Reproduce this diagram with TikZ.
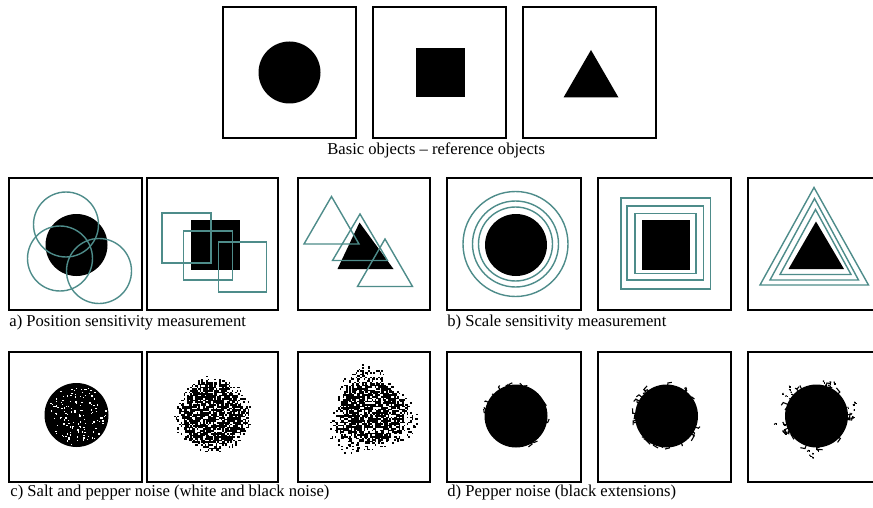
\documentclass[tikz,border=0pt]{standalone}
\usepackage{fontspec}
\setmainfont{Liberation Serif}
\usetikzlibrary{calc}
\definecolor{probeteal}{RGB}{78,140,138}

\begin{document}
\begin{tikzpicture}[
    x=0.5pt, y=-0.5pt,
    font=\fontsize{8.3}{10}\selectfont,
    frame/.style={draw=black, line width=0.75pt, fill=white},
    obj/.style={fill=black},
    probe/.style={draw=probeteal, line width=0.7pt},
    speck/.style={draw=black, line width=0.55pt},
    caption/.style={inner sep=0pt, anchor=base west}
  ]
  \useasboundingbox (0,0) rectangle (873,508);
  \clip (0,0) rectangle (873,508);

  % frames
  \foreach \x in {223,373,523} \draw[frame] (\x,7) rectangle ++(133,131);
  \foreach \x/\w in {9/133,147/131,298/132,447/134,598/133,748/133} {
    \draw[frame] (\x,178) rectangle ++(\w,132);
    \draw[frame] (\x,352) rectangle ++(\w,130);
  }

  % reference objects
  \fill[obj] (289.5,72.5) circle (31);
  \fill[obj] (416,48.5) rectangle (465,97.5);
  \fill[obj] (591,50) -- (618.5,97.5) -- (563.5,97.5) -- cycle;
  \node[caption] (capbasic) at (327,155) {Basic objects -- reference objects};

  % a) position
  \fill[obj] (76.5,245) circle (31);
  \draw[probe] (66,224.5) circle (32.5);
  \draw[probe] (60,258.5) circle (32.5);
  \draw[probe] (99,271) circle (32.5);
  \fill[obj] (191,220) rectangle (239.5,269.5);
  \draw[probe] (162,213) rectangle ++(49,50);
  \draw[probe] (183.5,231) rectangle ++(49,49);
  \draw[probe] (218.5,242) rectangle ++(48,50);
  \fill[obj] (359.5,222.5) -- (393.5,269) -- (337.5,269) -- cycle;
  \draw[probe] (331.5,196.5) -- (359,244) -- (304,244) -- cycle;
  \draw[probe] (360,214) -- (387.5,260.5) -- (332.5,260.5) -- cycle;
  \draw[probe] (385,239) -- (412.5,286.5) -- (357.5,286.5) -- cycle;
  \node[caption] (cappos) at (9,326) {a) Position sensitivity measurement};

  % b) scale
  \fill[obj] (516,245) circle (31);
  \foreach \r in {37,43,52.5} \draw[probe] (515.5,244) circle (\r);
  \fill[obj] (642,220) rectangle (690,269.5);
  \draw[probe] (635,213.5) rectangle (696,273.5);
  \draw[probe] (627,206) rectangle (703.5,280);
  \draw[probe] (621,198) rectangle (710.5,289);
  \fill[obj] (816,221.5) -- (844,269) -- (788.5,269) -- cycle;
  \draw[probe] (815.5,209.5) -- (851,274.5) -- (780,274.5) -- cycle;
  \draw[probe] (814.5,198.5) -- (858.5,280) -- (770,280) -- cycle;
  \draw[probe] (814,187.5) -- (868.5,285) -- (760,285) -- cycle;
  \node[caption] (capscale) at (447,326) {b) Scale sensitivity measurement};

  % c) salt and pepper
  \pgfmathsetseed{11}
  \fill[obj] (76.5,415) circle (32);
  \foreach \k in {1,...,140} {
    \pgfmathsetmacro\ang{360*rnd}
    \pgfmathsetmacro\rr{30*sqrt(rnd)}
    \fill[white, shift={(76.5,415)}] (\ang:\rr) rectangle ++(1.3,1.3);
  }
  \foreach \i in {-25,...,25} {
    \foreach \j in {-25,...,25} {
      \pgfmathsetmacro\dd{1.6*veclen(\i,\j)}
      \pgfmathtruncatemacro\hit{rnd < (\dd<28 ? 0.74 : max(0,0.74*(40-\dd)/12))}
      \ifnum\hit=1 \fill (212.5+1.6*\i,414+1.6*\j) rectangle ++(1.6,1.6); \fi
    }
  }
  \foreach \i in {-32,...,32} {
    \foreach \j in {-32,...,32} {
      \pgfmathsetmacro\dd{1.6*veclen(\i,\j)}
      \pgfmathsetmacro\th{atan2(\j,\i+0.001)}
      \pgfmathsetmacro\rb{44+8*sin(3*\th+40)}
      \pgfmathtruncatemacro\hit{rnd < (\dd<30 ? 0.68 : max(0,0.55*(\rb-\dd)/(\rb-30)))}
      \ifnum\hit=1 \fill (370+1.6*\i,412+1.6*\j) rectangle ++(1.6,1.6); \fi
    }
  }
  \node[caption] (capsalt) at (10,496.5) {c) Salt and pepper noise (white and black noise)};

  % d) pepper
  \foreach \cx/\n/\len/\sd in {516/14/3/21,666.5/24/4/22,816.5/22/5/23} {
    \pgfmathsetseed{\sd}
    \fill[obj] (\cx,416) circle (31.5);
    \foreach \k in {1,...,\n} {
      \pgfmathsetmacro\ang{360*rnd}
      \pgfmathsetmacro\rr{31+\len*rnd}
      \pgfmathsetmacro\bend{\ang+10*rand}
      \draw[speck, shift={(\cx,416)}] (\ang:30) -- (\ang:\rr) -- (\bend:\rr+1);
    }
  }
  \foreach \ca in {225,290,350,95,160} {
    \foreach \k in {1,...,6} {
      \pgfmathsetmacro\ang{\ca+12*rand}
      \pgfmathsetmacro\rr{32+10*rnd}
      \fill[obj, shift={(816.5,416)}] (\ang:\rr) rectangle ++(1.4,1.4);
      \draw[speck, shift={(816.5,416)}] (\ang:\rr) -- ++(2*rand,2*rand);
    }
  }
  \node[caption] (cappepper) at (447,496.5) {d) Pepper noise (black extensions)};
\end{tikzpicture}
\end{document}
